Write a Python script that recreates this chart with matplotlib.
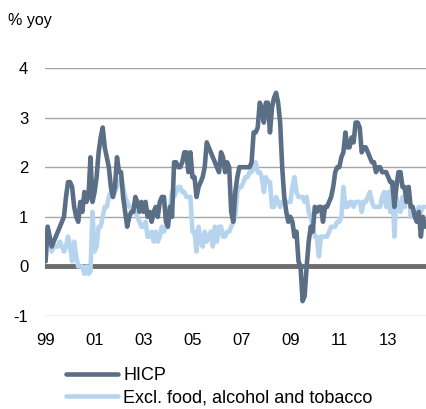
import matplotlib
matplotlib.use('Agg')
import matplotlib.pyplot as plt

plt.rcParams['font.family'] = ['Liberation Sans', 'DejaVu Sans']
plt.rcParams['axes.unicode_minus'] = False

# monthly, Jan 1999 - Jul 2014, % yoy
hicp = [
    0.1, 0.8, 0.6, 0.4, 0.5, 0.6, 0.7, 0.8, 0.9, 1.0, 1.4, 1.7,
    1.7, 1.6, 1.2, 1.0, 0.9, 1.3, 1.1, 1.5, 1.3, 1.4, 2.2, 1.3,
    1.5, 1.8, 2.3, 2.6, 2.8, 2.4, 2.2, 2.0, 1.6, 1.4, 1.6, 2.2,
    1.9, 1.9, 1.4, 1.1, 0.8, 1.0, 1.1, 1.1, 1.4, 1.3, 1.1, 1.3,
    1.1, 1.3, 1.0, 1.1, 0.9, 1.1, 1.2, 1.0, 1.3, 1.4, 1.4, 0.9,
    0.8, 1.2, 1.0, 2.1, 2.1, 2.0, 2.0, 2.1, 2.3, 2.3, 1.9, 2.3,
    1.8, 1.8, 1.4, 1.6, 1.7, 1.8, 2.0, 2.5, 2.4, 2.3, 2.2, 2.1,
    2.0, 1.9, 2.3, 2.2, 1.9, 2.1, 2.0, 1.1, 0.9, 1.5, 1.8, 2.0,
    2.0, 2.0, 2.0, 2.0, 2.0, 2.1, 2.7, 2.7, 2.8, 3.3, 3.2, 2.9,
    3.3, 3.3, 2.7, 3.2, 3.4, 3.5, 3.3, 2.9, 2.0, 1.4, 1.1, 0.9,
    1.0, 0.9, 0.6, 0.7, 0.1, 0.0, -0.7, -0.6, 0.0, 0.5, 0.8, 0.7,
    1.2, 1.1, 1.2, 1.2, 0.9, 1.2, 1.2, 1.3, 1.4, 1.6, 1.9, 2.0,
    2.0, 2.2, 2.3, 2.7, 2.4, 2.4, 2.6, 2.5, 2.9, 2.9, 2.8, 2.3,
    2.4, 2.4, 2.3, 2.2, 2.1, 2.1, 1.9, 2.0, 2.0, 1.9, 1.9, 1.9,
    1.8, 1.7, 1.7, 1.2, 1.6, 1.9, 1.9, 1.6, 1.6, 1.3, 1.6, 1.2,
    1.2, 1.0, 0.9, 1.1, 0.6, 1.0, 0.8,
]
core = [
    0.7, 0.8, 0.5, 0.3, 0.4, 0.4, 0.4, 0.5, 0.4, 0.3, 0.4, 0.6,
    0.4, 0.1, 0.5, 0.2, 0.0, 0.0, 0.0, -0.15, 0.0, -0.15, -0.1, 1.1,
    0.3, 0.4, 0.8, 0.8, 1.0, 1.2, 1.2, 1.4, 1.5, 1.4, 1.5, 1.6,
    1.7, 1.8, 1.6, 1.4, 1.3, 1.2, 1.2, 1.1, 1.1, 1.0, 0.9, 0.8,
    0.8, 0.9, 0.6, 0.6, 0.7, 0.5, 0.7, 0.5, 0.6, 0.8, 0.7, 0.8,
    0.9, 1.2, 1.5, 1.4, 1.5, 1.6, 1.6, 1.5, 1.5, 1.4, 1.4, 1.4,
    0.7, 0.7, 0.3, 0.8, 0.5, 0.4, 0.7, 0.5, 0.6, 0.7, 0.4, 0.8,
    0.5, 0.8, 0.8, 0.6, 0.6, 0.7, 0.7, 0.8, 0.9, 1.0, 1.5, 1.6,
    1.6, 1.7, 1.8, 1.8, 1.9, 1.9, 2.0, 2.1, 1.9, 1.9, 1.8, 1.5,
    1.8, 1.7, 1.7, 1.2, 1.2, 1.4, 1.3, 1.2, 1.3, 1.3, 1.3, 1.3,
    1.3, 1.6, 1.8, 1.5, 1.4, 1.4, 1.4, 1.3, 1.4, 1.1, 1.0, 0.8,
    0.6, 0.6, 0.2, 0.6, 0.6, 0.6, 0.6, 0.7, 0.8, 0.8, 0.8, 0.9,
    0.9, 1.0, 1.6, 1.2, 1.2, 1.3, 1.3, 1.2, 1.3, 1.3, 1.3, 1.1,
    1.3, 1.3, 1.4, 1.5, 1.3, 1.2, 1.2, 1.2, 1.2, 1.4, 1.5, 1.2,
    1.5, 1.1, 1.7, 0.6, 1.4, 1.2, 1.1, 1.4, 1.2, 1.6, 1.6, 1.0,
    1.1, 1.0, 1.1, 1.2, 1.1, 1.2, 1.2,
]
tick_labels = ['99', '01', '03', '05', '07', '09', '11', '13']
y_ticks = [-1, 0, 1, 2, 3, 4]

months = list(range(len(hicp)))

fig = plt.figure(figsize=(4.27, 4.09), dpi=100, facecolor='white')
ax = fig.add_axes([45 / 427, 93 / 409, 382 / 427, 248 / 409])

ax.set_ylim(-1, 4)
ax.set_xlim(-0.3, 187)
for y in y_ticks:
    if y == 0:
        continue
    ax.axhline(y, color='#a6a6a6', lw=1.0, zorder=1)
ax.axhline(0, color='#6d6d6d', lw=3.5, zorder=1)

ax.plot(months, hicp, color='#5a6f86', lw=3.3, solid_joinstyle='round',
        solid_capstyle='round', zorder=3, label='HICP')
ax.plot(months, core, color='#b7d4ef', lw=3.3, solid_joinstyle='round',
        solid_capstyle='round', zorder=2, label='Excl. food, alcohol and tobacco')

ax.set_yticks(y_ticks)
ax.set_xticks([24 * i for i in range(len(tick_labels))])
ax.set_xticklabels(tick_labels)
ax.tick_params(axis='both', length=0, labelsize=12, colors='#000000')
ax.tick_params(axis='y', pad=12)
ax.tick_params(axis='x', pad=12)
for s in ax.spines.values():
    s.set_visible(False)

fig.text(8 / 427, 1 - 21 / 409, '% yoy', fontsize=11.5, ha='left', va='center')

fig.legend(loc='upper left', bbox_to_anchor=(66 / 427, 1 - 367 / 409),
           frameon=False, fontsize=13, handlelength=2.9, handletextpad=0.28,
           labelspacing=0.32, borderpad=0, borderaxespad=0)

fig.savefig('out.png', dpi=100, facecolor='white')
